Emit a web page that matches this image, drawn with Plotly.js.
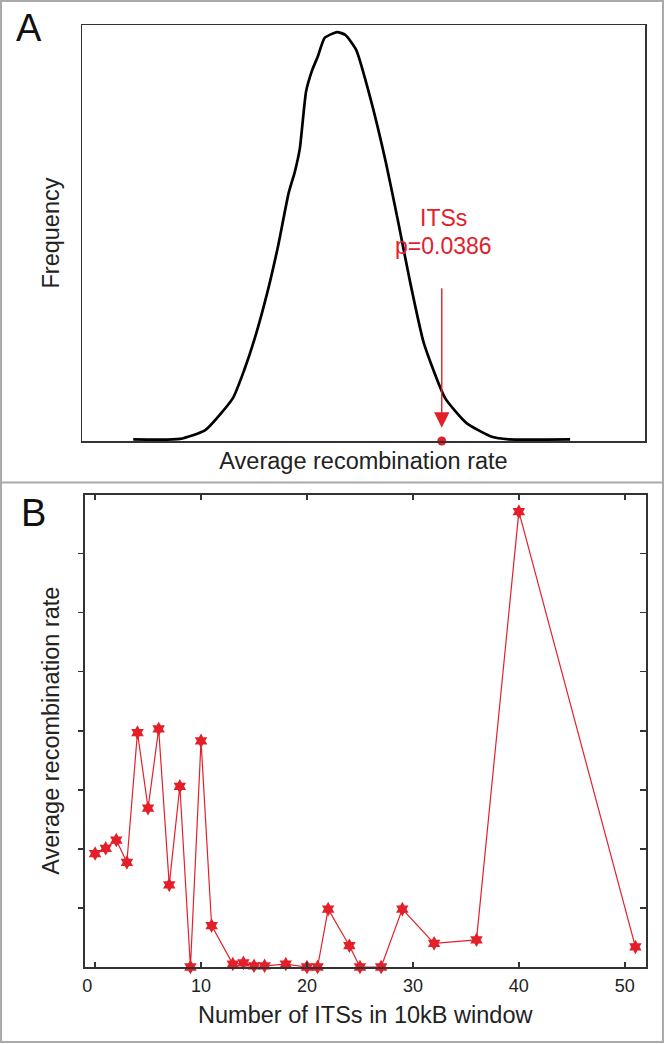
<!DOCTYPE html>
<html>
<head>
<meta charset="utf-8">
<script src="https://cdn.plot.ly/plotly-3.0.1.min.js"></script>
<style>
html,body{margin:0;padding:0;background:#fff;}
#chart{width:665px;height:1044px;}
</style>
</head>
<body>
<div id="chart"></div>
<script>
// Panel A: null distribution of average recombination rate (arbitrary units)
const distX = [9.1, 17.4, 21.9, 26.8, 28.8, 30.6, 32.9, 34.8, 36.7, 37.8, 38.7, 39.8, 40.9, 41.9, 43.1, 45.3, 46.8, 48.7, 51.3, 54.0, 56.2, 58.1, 60.7, 64.5, 68.3, 72.8, 75.8, 86.7];
const distY = [0.4, 0.5, 2.6, 10.3, 17.0, 24.3, 35.6, 46.7, 59.6, 64.7, 70.4, 84.0, 89.2, 92.5, 96.9, 98.3, 97.6, 94.0, 82.0, 66.8, 52.4, 39.4, 23.6, 10.3, 4.3, 1.0, 0.4, 0.4];
const itsObservedX = [63.9];
const itsObservedY = [0];
const itsLabel = "ITSs";
const pLabel = "p=0.0386";

// Panel B: recombination rate by number of ITSs in 10kB window
const itsCount = [0, 1, 2, 3, 4, 5, 6, 7, 8, 9, 10, 11, 13, 14, 15, 16, 18, 20, 21, 22, 24, 25, 27, 29, 32, 36, 40, 51];
const recombRate = [1.92, 2.01, 2.15, 1.77, 3.97, 2.69, 4.03, 1.39, 3.06, 0, 3.83, 0.70, 0.05, 0.07, 0.02, 0.02, 0.05, 0, 0, 0.98, 0.36, 0, 0, 0.98, 0.40, 0.46, 7.71, 0.34];
const xTickVals = [-0.75, 10, 20, 30, 40, 50];
const xTickText = ["0", "10", "20", "30", "40", "50"];
const yTickVals = [1, 2, 3, 4, 5, 6, 7];

const RED = '#e3202a';
const FONT = 'Liberation Sans, Arial, sans-serif';
const W = 665, H = 1044;
const px = v => v / W;
const py = v => 1 - v / H;

const traces = [
  {x: distX, y: distY, xaxis: 'x', yaxis: 'y', mode: 'lines', type: 'scatter',
   line: {color: '#000', width: 2.7, shape: 'spline', smoothing: 0.5}, hoverinfo: 'skip'},
  {x: itsObservedX, y: itsObservedY, xaxis: 'x', yaxis: 'y', mode: 'markers', type: 'scatter',
   marker: {color: RED, size: 9}, cliponaxis: false},
  {x: itsCount, y: recombRate, xaxis: 'x2', yaxis: 'y2', mode: 'lines+markers', type: 'scatter',
   line: {color: RED, width: 1.2}, marker: {color: RED, size: 11, symbol: 'hexagram'}, cliponaxis: false},
  // invisible traces carrying the helper axes (tick labels / right-side ticks)
  {x: [0], y: [0], xaxis: 'x3', yaxis: 'y2', mode: 'markers', type: 'scatter', marker: {opacity: 0}, hoverinfo: 'skip'},
  {x: [0], y: [0], xaxis: 'x2', yaxis: 'y3', mode: 'markers', type: 'scatter', marker: {opacity: 0}, hoverinfo: 'skip'}
];

const axLine = {showline: true, linecolor: '#333', linewidth: 1.5, mirror: true, zeroline: false, showgrid: false};
const titleFont = {size: 23.5, color: '#222', family: FONT};

const layout = {
  width: W, height: H,
  margin: {l: 0, r: 0, t: 0, b: 0},
  paper_bgcolor: '#fff', plot_bgcolor: '#fff',
  showlegend: false,
  font: {family: FONT, color: '#222'},
  xaxis: Object.assign({}, axLine, {domain: [px(82), px(645)], range: [0, 100], showticklabels: false, ticks: '',
    title: {text: 'Average recombination rate', font: titleFont, standoff: 11}}),
  yaxis: Object.assign({}, axLine, {domain: [py(441), py(25)], range: [0, 100], showticklabels: false, ticks: '',
    title: {text: 'Frequency', font: titleFont, standoff: 14}}),
  xaxis2: Object.assign({}, axLine, {domain: [px(84.5), px(646)], range: [-1, 52], anchor: 'y2', mirror: 'ticks',
    tickvals: [0, 10, 20, 30, 40, 50], showticklabels: false, ticks: 'inside', ticklen: 5, tickcolor: '#333', tickwidth: 1.5,
    title: {text: 'Number of ITSs in 10kB window', font: titleFont, standoff: 39}}),
  xaxis3: {domain: [px(84.5), px(646)], range: [-1, 52], anchor: 'y2', overlaying: 'x2', side: 'bottom',
    tickvals: xTickVals, ticktext: xTickText, ticks: '', showline: false, showgrid: false, zeroline: false,
    tickfont: {size: 18, color: '#222'}, ticklabelstandoff: 6},
  yaxis2: Object.assign({}, axLine, {domain: [py(967), py(494.5)], range: [0, 8], anchor: 'x2',
    tickvals: yTickVals, showticklabels: false, ticks: 'outside', ticklen: 5, tickcolor: '#333', tickwidth: 1.5,
    title: {text: 'Average recombination rate', font: titleFont, standoff: 12}}),
  yaxis3: {domain: [py(967), py(494.5)], range: [0, 8], anchor: 'x2', overlaying: 'y2', side: 'right',
    tickvals: yTickVals, showticklabels: false, ticks: 'inside', ticklen: 6, tickcolor: '#333', tickwidth: 1.5,
    showline: false, showgrid: false, zeroline: false},
  annotations: [
    {xref: 'x', yref: 'y', x: itsObservedX[0], y: 3.2, ax: 0, ay: -141, axref: 'pixel', ayref: 'pixel',
     text: '', showarrow: true, arrowhead: 2, arrowsize: 2.2, arrowwidth: 1.4, arrowcolor: RED, standoff: 0, startstandoff: 0},
    {xref: 'paper', yref: 'paper', x: px(443), y: py(218), text: itsLabel, showarrow: false,
     font: {size: 23, color: RED, family: FONT}, xanchor: 'center', yanchor: 'middle'},
    {xref: 'paper', yref: 'paper', x: px(443), y: py(246), text: pLabel, showarrow: false,
     font: {size: 23, color: RED, family: FONT}, xanchor: 'center', yanchor: 'middle'},
    {xref: 'paper', yref: 'paper', x: px(29), y: py(28), text: 'A', showarrow: false,
     font: {size: 38, color: '#111', family: FONT}, xanchor: 'center', yanchor: 'middle'},
    {xref: 'paper', yref: 'paper', x: px(33), y: py(513), text: 'B', showarrow: false,
     font: {size: 38, color: '#111', family: FONT}, xanchor: 'center', yanchor: 'middle'}
  ],
  shapes: [
    {type: 'rect', xref: 'paper', yref: 'paper', x0: px(1), x1: px(663), y0: py(1042), y1: py(1),
     line: {color: '#aaa', width: 2}},
    {type: 'line', xref: 'paper', yref: 'paper', x0: px(1), x1: px(663), y0: py(482.5), y1: py(482.5),
     line: {color: '#aaa', width: 2}}
  ]
};

Plotly.newPlot('chart', traces, layout, {staticPlot: true, displayModeBar: false});
</script>
</body>
</html>
